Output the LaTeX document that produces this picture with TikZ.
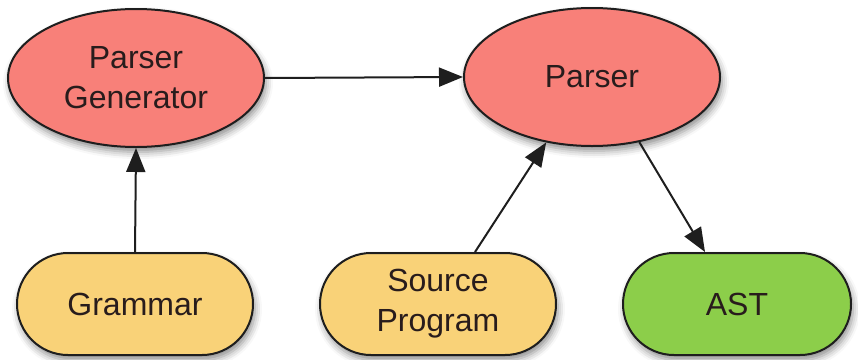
\documentclass[tikz,border=0pt]{standalone}
\usepackage{fontspec}
\setmainfont{Liberation Sans}
\usetikzlibrary{shapes.geometric,shapes.misc,arrows.meta,shadows.blur,calc}

\definecolor{procfill}{RGB}{248,128,121}
\definecolor{infill}{RGB}{249,210,120}
\definecolor{outfill}{RGB}{140,206,74}
\definecolor{inktext}{RGB}{40,28,28}
\definecolor{edge}{RGB}{30,30,30}

\tikzset{
  soft/.style={blur shadow={shadow xshift=2pt, shadow yshift=-5pt,
      shadow blur radius=7pt, shadow opacity=45}},
  label/.style={font=\fontsize{32}{40}\selectfont, text=inktext, align=center},
  proc/.style={ellipse, draw=edge, line width=2pt, fill=procfill, soft,
      minimum width=256pt, minimum height=138pt, inner sep=0pt, label},
  pill/.style={rounded rectangle, draw=edge, line width=2pt, soft,
      minimum width=236pt, minimum height=102pt, inner sep=0pt, label},
  link/.style={draw=edge, line width=2pt,
      -{Triangle[length=24pt,width=19pt]}}
}

\begin{document}
\begin{tikzpicture}[x=1pt,y=-1pt]
  \useasboundingbox (0,0) rectangle (858,359);

  % processing stages
  \node[proc] (gen) at (136,78) {Parser\\Generator};
  \node[proc] (par) at (592,77) {Parser};

  % inputs and output
  \node[pill, fill=infill]  (gram) at (135,304) {Grammar};
  \node[pill, fill=infill]  (src)  at (438,304) {Source\\Program};
  \node[pill, fill=outfill, minimum width=228pt] (ast) at (737,304) {AST};

  % data flow
  \draw[link] (gen.east) -- (par.west);
  \draw[link] (gram.north) -- (gen.south);
  \draw[link] ([xshift=37pt]src.north) -- (par.235.7);
  \draw[link] (par.306) -- ([xshift=-32pt]ast.north);
\end{tikzpicture}
\end{document}
